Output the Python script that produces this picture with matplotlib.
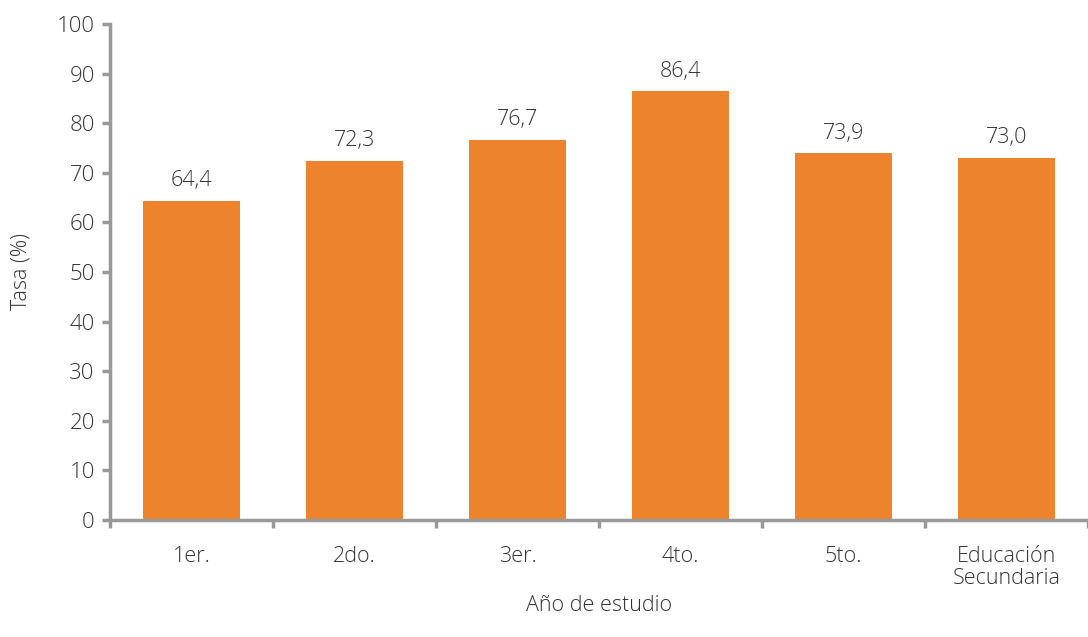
import matplotlib
matplotlib.use("Agg")
import matplotlib.pyplot as plt

categorias = ["1er.", "2do.", "3er.", "4to.", "5to.", "Educación\nSecundaria"]
tasas = [64.4, 72.3, 76.7, 86.4, 73.9, 73.0]
etiquetas = ["64,4", "72,3", "76,7", "86,4", "73,9", "73,0"]

plt.rcParams['font.family'] = ['Open Sans', 'DejaVu Sans']
plt.rcParams['font.weight'] = 'light'
plt.rcParams['axes.labelweight'] = 'light'
texto = "#333333"
gris = "#999999"
fs = 15.5

fig = plt.figure(figsize=(10.88, 6.37), dpi=100)
ax = fig.add_axes([0.1011, 0.1837, 0.8989, 0.7786])

x = range(len(categorias))
bars = ax.bar(x, tasas, width=0.59, color="#ED832C")
for b, lab in zip(bars, etiquetas):
    ax.text(b.get_x() + b.get_width() / 2, b.get_height() + 2.0, lab,
            ha="center", va="bottom", fontsize=fs, color=texto)

ax.set_ylim(0, 100)
ax.set_xlim(-0.5, 5.46)
ax.set_yticks(range(0, 101, 10))
ax.set_xticks([i + 0.5 for i in range(-1, 6)], minor=False)
ax.set_xticklabels([])
ax.set_xticks(list(x), minor=True)
ax.set_xticklabels(categorias, minor=True, fontsize=fs, color=texto, linespacing=1.05)
ax.tick_params(axis="x", which="minor", length=0, pad=19)
ax.tick_params(axis="x", which="major", length=6, width=2.5, color=gris, direction="out")
ax.tick_params(axis="y", length=6, width=2.5, color=gris, labelsize=fs + 0.5, labelcolor=texto, pad=5)

for s in ["top", "right"]:
    ax.spines[s].set_visible(False)
for s in ["left", "bottom"]:
    ax.spines[s].set_color(gris)
    ax.spines[s].set_linewidth(2.5)

ax.set_ylabel("Tasa (%)", fontsize=fs, color=texto, labelpad=18)
ax.set_xlabel("Año de estudio", fontsize=fs, color=texto, labelpad=4)

fig.savefig("out.png", dpi=100)
